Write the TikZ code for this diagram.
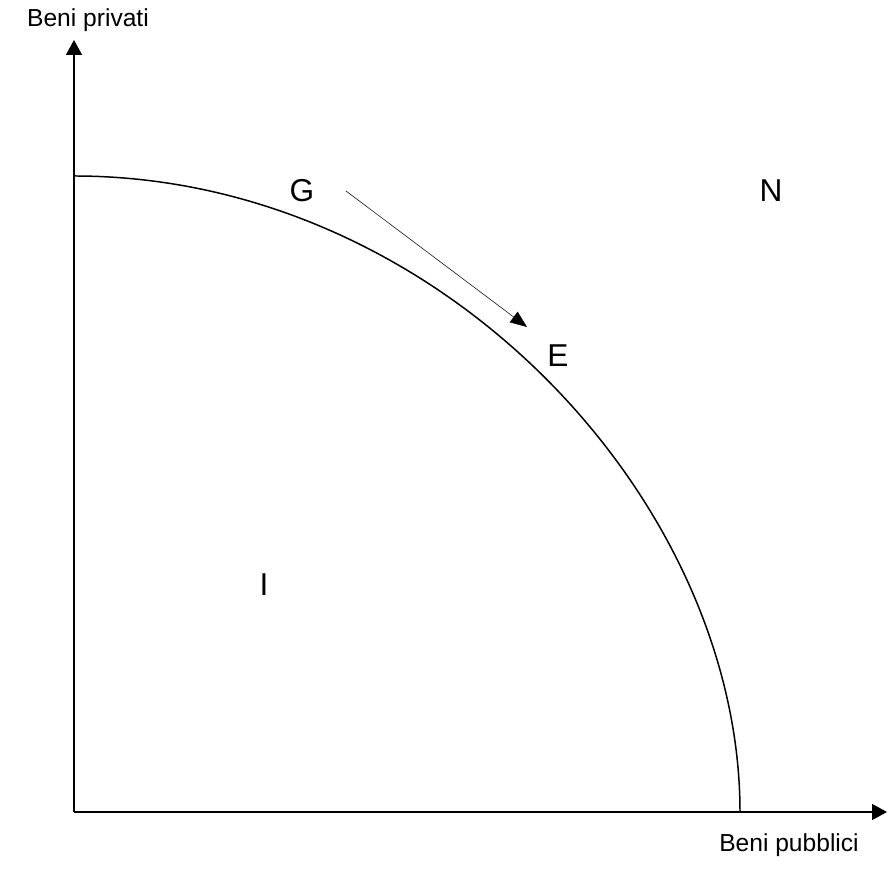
\documentclass[tikz,border=0pt]{standalone}
\usepackage{fontspec}
\setmainfont{Liberation Sans}
\usetikzlibrary{arrows.meta}
\tikzset{
  axis/.style={draw=black,line width=1.1pt,-{Triangle[length=8.5pt,width=9pt]}},
  frontier/.style={draw=black,line width=.85pt},
  move/.style={draw=black,line width=.3pt,-{Triangle[length=9.5pt,width=7.5pt]}},
  axislabel/.style={font=\fontsize{14}{16}\selectfont,inner sep=0pt},
  point/.style={font=\fontsize{18}{20}\selectfont,inner sep=0pt}
}
\begin{document}
\begin{tikzpicture}[x=.02cm,y=.02cm]
  \useasboundingbox (0,0) rectangle (889,882);
  \coordinate (origin) at (74,70);
  \coordinate (ytop) at (74,842);
  \coordinate (xend) at (887,70);
  \draw[axis] (origin) -- (ytop);
  \draw[axis] (origin) -- (xend);
  \node[axislabel] (privati) at (88,862) {Beni privati};
  \node[axislabel] (pubblici) at (789,37) {Beni pubblici};
  % frontiera delle possibilita
  \coordinate (ftop) at (74,706);
  \coordinate (fbottom) at (740,70);
  \draw[frontier] (ftop) .. controls (440,706) and (740,382) .. (fbottom);
  \node[point] (g) at (302,691) {G};
  \node[point] (n) at (771,691) {N};
  \node[point] (e) at (558,526) {E};
  \node[point] (i) at (264,297) {I};
  \coordinate (gstart) at (346,691);
  \coordinate (eend) at (527,555);
  \draw[move] (gstart) -- (eend);
\end{tikzpicture}
\end{document}
